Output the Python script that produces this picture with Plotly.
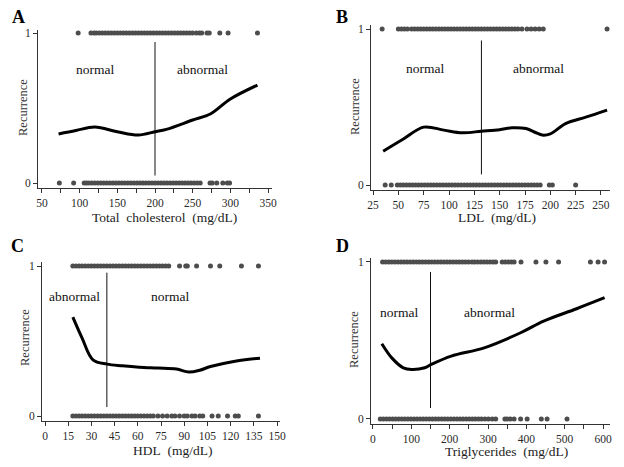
import plotly.graph_objects as go

# the page body has an 8px default margin; the figure is sized to fit the 624x467 window
OFF = 8
W, H = 624 - 2 * OFF, 467 - 2 * OFF

# ---------------- data ----------------
# Panel A: Total cholesterol
A_top = [98, 115, 119, 122, 126, 130, 134, 138, 142, 146, 150, 154, 158, 162, 166, 170, 174, 178,
         182, 186, 190, 194, 198, 202, 206, 210, 214, 218, 222, 226, 230, 234, 238, 242, 246, 250,
         255, 259, 262, 269, 272, 286, 297, 336]
A_bot = [73, 92, 106, 109, 112, 116, 120, 124, 128, 132, 136, 140, 144, 148, 152, 156, 160, 164, 168,
         172, 176, 180, 184, 188, 192, 196, 200, 204, 208, 212, 216, 220, 224, 228, 232, 236, 240, 244,
         248, 252, 256, 260, 273, 276, 282, 290, 296, 299]
A_curve_x = [72, 95, 120, 150, 178, 200, 215, 250, 274, 300, 336]
A_curve_y = [0.327, 0.350, 0.373, 0.342, 0.320, 0.342, 0.358, 0.420, 0.462, 0.560, 0.653]
A_cut = 200

# Panel B: LDL
B_top = [34, 50, 53, 56, 59, 63, 66, 69, 72, 75, 78, 81, 84, 87, 90, 93, 96, 99, 102, 105, 108, 111,
         114, 117, 120, 123, 126, 129, 132, 135, 138, 141, 144, 147, 150, 153, 156, 159, 162, 165, 168,
         172, 177, 181, 185, 189, 193, 256]
B_bot = [37, 43, 49, 52, 55, 58, 61, 64, 67, 70, 73, 76, 79, 82, 85, 88, 91, 94, 97, 100, 103, 106,
         109, 112, 115, 118, 121, 124, 127, 130, 133, 136, 139, 142, 145, 148, 151, 154, 157, 160, 163,
         166, 169, 172, 175, 178, 181, 184, 187, 190, 199, 202, 225]
B_curve_x = [35, 55, 75, 95, 113, 132, 150, 162, 176, 186, 192, 200, 215, 235, 256]
B_curve_y = [0.217, 0.295, 0.371, 0.352, 0.335, 0.345, 0.355, 0.367, 0.362, 0.335, 0.320, 0.328, 0.394, 0.435, 0.480]
B_cut = 132

# Panel C: HDL
C_top = [18, 20, 22, 24, 26, 28, 30, 32, 34, 36, 38, 40, 42, 44, 46, 48, 50, 52, 54, 56, 58, 60, 62,
         64, 66, 68, 70, 72, 74, 76, 78, 80, 87, 91, 92, 98, 107, 113, 127, 138]
C_bot = [18, 20, 22, 24, 26, 28, 30, 32, 34, 36, 38, 40, 42, 44, 46, 48, 50, 52, 54, 56, 58, 60, 62,
         64, 66, 68, 70, 73, 76, 79, 82, 84, 87, 90, 92, 95, 97, 100, 102, 108, 112, 118, 123, 125, 138]
C_curve_x = [18, 24, 31, 40, 50, 61, 73, 85, 93, 100, 107, 122, 139]
C_curve_y = [0.659, 0.519, 0.375, 0.346, 0.335, 0.326, 0.320, 0.313, 0.293, 0.305, 0.330, 0.364, 0.386]
C_cut = 40

# Panel D: Triglycerides
D_top = [25, 33, 41, 49, 57, 65, 73, 81, 89, 97, 105, 113, 121, 129, 137, 145, 153, 161, 169, 177,
         185, 193, 201, 209, 217, 225, 233, 241, 249, 258, 265, 273, 281, 289, 297, 305, 313, 320,
         337, 345, 353, 361, 368, 386, 425, 451, 484, 567, 587, 604]
D_bot = [19, 27, 35, 43, 51, 59, 67, 75, 83, 91, 99, 107, 115, 123, 131, 139, 147, 155, 163, 171, 179,
         187, 195, 203, 211, 219, 227, 235, 243, 251, 259, 267, 275, 283, 292, 301, 311, 320, 344, 350,
         358, 368, 385, 402, 439, 454, 506]
D_curve_x = [23, 49, 79, 101, 135, 152, 204, 290, 385, 445, 531, 604]
D_curve_y = [0.479, 0.389, 0.326, 0.315, 0.326, 0.347, 0.400, 0.453, 0.549, 0.623, 0.702, 0.772]
D_cut = 150

# x tick labels
A_ticks = [50, 100, 150, 200, 250, 300, 350]
B_ticks = [25, 50, 75, 100, 125, 150, 175, 200, 225, 250]
C_ticks = [0, 15, 30, 45, 60, 75, 90, 105, 120, 135, 150]
D_ticks = [0, 100, 200, 300, 400, 500, 600]

panels = [
    dict(letter="A", title="Total\u00a0 cholesterol\u00a0 (mg/dL)", top=A_top, bot=A_bot,
         cx=A_curve_x, cy=A_curve_y, cut=A_cut, vy=[0.05, 0.94], ticks=A_ticks, minor=25,
         l1="normal", l1x=120, l2="abnormal", l2x=263, ly=0.757,
         xpx=(38, 272), xr=[44.7, 355.3], ypx=(30, 188), yr=[-0.033, 1.02],
         tpos=(164, 218), rpos=(23, 108), lpos=(18, 17)),
    dict(letter="B", title="LDL\u00a0 (mg/dL)", top=B_top, bot=B_bot,
         cx=B_curve_x, cy=B_curve_y, cut=B_cut, vy=[0.068, 0.927], ticks=B_ticks, minor=None,
         l1="normal", l1x=76, l2="abnormal", l2x=188, ly=0.744,
         xpx=(371, 610), xr=[23.0, 258.9], ypx=(25, 190), yr=[-0.032, 1.026],
         tpos=(497, 218), rpos=(355, 107), lpos=(342, 17)),
    dict(letter="C", title="HDL\u00a0 (mg/dL)", top=C_top, bot=C_bot,
         cx=C_curve_x, cy=C_curve_y, cut=C_cut, vy=[0.06, 0.956], ticks=C_ticks, minor=None,
         l1="abnormal", l1x=19, l2="normal", l2x=81, ly=0.796,
         xpx=(42, 280), xr=[-1.94, 151.94], ypx=(262, 421), yr=[-0.033, 1.027],
         tpos=(172, 450), rpos=(25, 338), lpos=(17, 246)),
    dict(letter="D", title="Triglycerides\u00a0 (mg/dL)", top=D_top, bot=D_bot,
         cx=D_curve_x, cy=D_curve_y, cut=D_cut, vy=[0.07, 0.936], ticks=D_ticks, minor=50,
         l1="normal", l1x=68, l2="abnormal", l2x=303, ly=0.681,
         xpx=(371, 610), xr=[-5.2, 618.1], ypx=(258, 424), yr=[-0.032, 1.025],
         tpos=(506, 451), rpos=(354, 340), lpos=(342, 246)),
]


def px_x(v):
    return (v - OFF) / W


def px_y(v):
    return 1 - (v - OFF) / H


FONT = "Liberation Serif"
AX = "#333333"
DOT = "#4d4d4d"

fig = go.Figure()
layout = dict(
    width=W, height=H, margin=dict(l=0, r=0, t=0, b=0, autoexpand=False),
    paper_bgcolor="white", plot_bgcolor="white", showlegend=False,
    font=dict(family=FONT, color="#222222"),
)
annotations = []

for i, p in enumerate(panels, start=1):
    xa = "x" if i == 1 else f"x{i}"
    ya = "y" if i == 1 else f"y{i}"
    xk = "xaxis" if i == 1 else f"xaxis{i}"
    yk = "yaxis" if i == 1 else f"yaxis{i}"

    fig.add_trace(go.Scatter(x=p["top"], y=[1] * len(p["top"]), mode="markers",
                             marker=dict(color=DOT, size=5), xaxis=xa, yaxis=ya, hoverinfo="skip"))
    fig.add_trace(go.Scatter(x=p["bot"], y=[0] * len(p["bot"]), mode="markers",
                             marker=dict(color=DOT, size=5), xaxis=xa, yaxis=ya, hoverinfo="skip"))
    fig.add_trace(go.Scatter(x=[p["cut"], p["cut"]], y=p["vy"], mode="lines",
                             line=dict(color="#111111", width=1), xaxis=xa, yaxis=ya, hoverinfo="skip"))
    fig.add_trace(go.Scatter(x=p["cx"], y=p["cy"], mode="lines", line_shape="spline",
                             line=dict(color="black", width=3), xaxis=xa, yaxis=ya, hoverinfo="skip"))

    x0, x1 = p["xpx"]
    yt, yb = p["ypx"]
    xaxis = dict(domain=[px_x(x0), px_x(x1)], range=p["xr"], anchor=ya, automargin=False,
                 showline=True, linecolor=AX, linewidth=1, showgrid=False, zeroline=False,
                 ticks="outside", ticklen=4, tickcolor=AX, tickwidth=1,
                 tickvals=p["ticks"], ticktext=[str(t) for t in p["ticks"]],
                 tickfont=dict(family=FONT, size=11.5, color="#2a2a2a"))
    if p["minor"]:
        xaxis["minor"] = dict(dtick=p["minor"], ticks="outside", ticklen=4, tickcolor=AX, tick0=0)
    layout[xk] = xaxis
    layout[yk] = dict(domain=[px_y(yb), px_y(yt)], range=p["yr"], anchor=xa, automargin=False,
                      showline=True, linecolor=AX, linewidth=1, showgrid=False, zeroline=False,
                      ticks="outside", ticklen=4, tickcolor=AX, tickwidth=1,
                      tickvals=[0, 1], ticktext=["0", "1"],
                      tickfont=dict(family=FONT, size=11.5, color="#2a2a2a"))

    common = dict(showarrow=False, xanchor="center", yanchor="middle", borderpad=0)
    annotations.append(dict(x=p["l1x"], y=p["ly"], xref=xa, yref=ya, text=p["l1"],
                            font=dict(family=FONT, size=13.5, color="#111111"), **common))
    annotations.append(dict(x=p["l2x"], y=p["ly"], xref=xa, yref=ya, text=p["l2"],
                            font=dict(family=FONT, size=13.5, color="#111111"), **common))
    tx, ty = p["tpos"]
    annotations.append(dict(x=px_x(tx), y=px_y(ty), xref="paper", yref="paper", text=p["title"],
                            font=dict(family=FONT, size=13.5, color="#222222"), **common))
    rx, ry = p["rpos"]
    annotations.append(dict(x=px_x(rx), y=px_y(ry), xref="paper", yref="paper", text="Recurrence",
                            textangle=-90, font=dict(family=FONT, size=12.5, color="#333333"), **common))
    lx, ly = p["lpos"]
    annotations.append(dict(x=px_x(lx), y=px_y(ly), xref="paper", yref="paper",
                            text="<b>" + p["letter"] + "</b>",
                            font=dict(family=FONT, size=18, color="black"), **common))

layout["annotations"] = annotations
fig.update_layout(**layout)
fig.write_html("out.html")
